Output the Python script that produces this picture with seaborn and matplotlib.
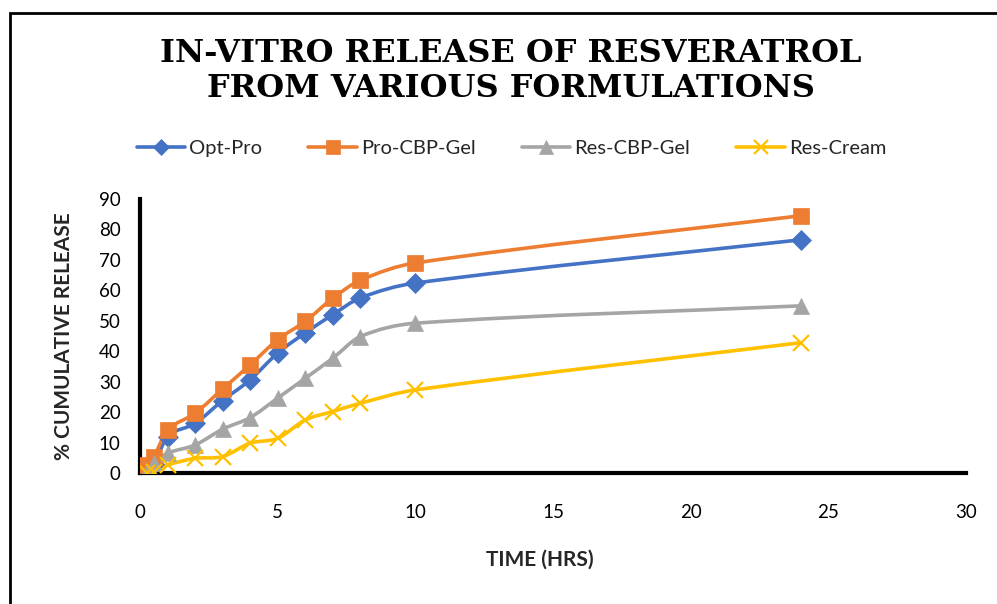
import numpy as np
import pandas as pd
import matplotlib
matplotlib.use("Agg")
import matplotlib.pyplot as plt
from matplotlib.path import Path
from matplotlib.patches import PathPatch, Rectangle
from matplotlib.lines import Line2D
import seaborn as sns

# ---- data ----
time_hrs = [0.25, 0.5, 1, 2, 3, 4, 5, 6, 7, 8, 10, 24]
opt_pro = [1.5, 3.0, 11.9, 16.3, 23.8, 30.6, 39.4, 46.0, 52.0, 57.5, 62.4, 76.6]
pro_cbp_gel = [2.6, 5.4, 14.0, 19.6, 27.6, 35.5, 43.8, 49.8, 57.4, 63.3, 69.0, 84.5]
res_cbp_gel = [0.4, 3.2, 6.5, 9.2, 14.4, 18.2, 24.6, 31.1, 37.7, 44.8, 49.2, 54.9]
res_cream = [0.0, 0.4, 2.6, 4.8, 5.4, 9.8, 11.4, 17.4, 20.2, 22.9, 27.3, 42.8]
series_names = ["Opt-Pro", "Pro-CBP-Gel", "Res-CBP-Gel", "Res-Cream"]
x_ticks = [0, 5, 10, 15, 20, 25, 30]
y_ticks = [0, 10, 20, 30, 40, 50, 60, 70, 80, 90]

colors = ["#4472C4", "#ED7D31", "#A5A5A5", "#FFC000"]
markers = ["D", "s", "^", "x"]
msizes = [10, 12, 12, 12]

df = pd.DataFrame({"time": time_hrs * 4,
                   "release": opt_pro + pro_cbp_gel + res_cbp_gel + res_cream,
                   "series": sum([[n] * len(time_hrs) for n in series_names], [])})

sns.set_theme(style="white")
plt.rcParams["font.family"] = ["Lato", "DejaVu Sans"]

fig = plt.figure(figsize=(9.97, 6.04), dpi=100)
ax = fig.add_axes([140 / 997, 1 - 473 / 604, (966 - 140) / 997, (473 - 199) / 604])

# markers via seaborn
for name, c, m, ms in zip(series_names, colors, markers, msizes):
    sub = df[df.series == name]
    sns.lineplot(data=sub, x="time", y="release", ax=ax, color=c, marker=m,
                 markersize=ms, linestyle="none", markeredgecolor=c,
                 markeredgewidth=1.6 if m == "x" else 0.5, zorder=4, legend=False)


def smooth_path(xs, ys):
    """Cubic Hermite curve through the data points (x as parameter)."""
    xs = np.asarray(xs, float)
    ys = np.asarray(ys, float)
    n = len(xs)
    m = np.empty(n)
    for i in range(n):
        a = max(i - 1, 0)
        b = min(i + 1, n - 1)
        m[i] = (ys[b] - ys[a]) / (xs[b] - xs[a])
    verts = [(xs[0], ys[0])]
    codes = [Path.MOVETO]
    for i in range(n - 1):
        h = xs[i + 1] - xs[i]
        verts += [(xs[i] + h / 3, ys[i] + m[i] * h / 3),
                  (xs[i + 1] - h / 3, ys[i + 1] - m[i + 1] * h / 3),
                  (xs[i + 1], ys[i + 1])]
        codes += [Path.CURVE4] * 3
    return Path(verts, codes)


for vals, c in zip([opt_pro, pro_cbp_gel, res_cbp_gel, res_cream], colors):
    p = PathPatch(smooth_path(time_hrs, vals), facecolor="none", edgecolor=c,
                  lw=2.6, zorder=3, capstyle="round", joinstyle="round")
    ax.add_patch(p)

ax.set_xlim(0, 30)
ax.set_ylim(0, 90)
ax.set_xticks(x_ticks)
ax.set_yticks(y_ticks)
ax.tick_params(axis="both", labelsize=13.5, colors="black", length=0)
ax.tick_params(axis="x", pad=22)
ax.tick_params(axis="y", pad=14)
for s in ["top", "right"]:
    ax.spines[s].set_visible(False)
for s in ["left", "bottom"]:
    ax.spines[s].set_color("black")
    ax.spines[s].set_linewidth(3)
ax.grid(False)
ax.set_xlabel("TIME (HRS)", fontsize=15, fontweight="bold")
ax.xaxis.set_label_coords((540 - 140) / 826, -(560 - 473) / 274, transform=ax.transAxes)
ax.xaxis.label.set_va("center")
ax.set_ylabel("% CUMULATIVE RELEASE", fontsize=15, fontweight="bold", labelpad=18)

fig.text(0.512, 1 - 71 / 604,
         "IN-VITRO RELEASE OF RESVERATROL\nFROM VARIOUS FORMULATIONS",
         ha="center", va="center", fontsize=23, fontweight="bold",
         family="DejaVu Serif", linespacing=1.15, color="black")

handles = [Line2D([], [], color=c, marker=m, markersize=ms * 0.85, lw=2.6,
                  markeredgewidth=1.6 if m == "x" else 0.5)
           for c, m, ms in zip(colors, markers, msizes)]
fig.legend(handles, series_names, loc="center", bbox_to_anchor=(0.513, 1 - 148 / 604),
           ncol=4, frameon=False, fontsize=14.5, handlelength=2.4, handletextpad=0.2,
           columnspacing=2.3)

fig.add_artist(Rectangle((10 / 997, -0.1), 1.2, 1.1 - 12.5 / 604, transform=fig.transFigure,
                         fill=False, edgecolor="black", lw=2))

fig.savefig("out.png", dpi=100)
